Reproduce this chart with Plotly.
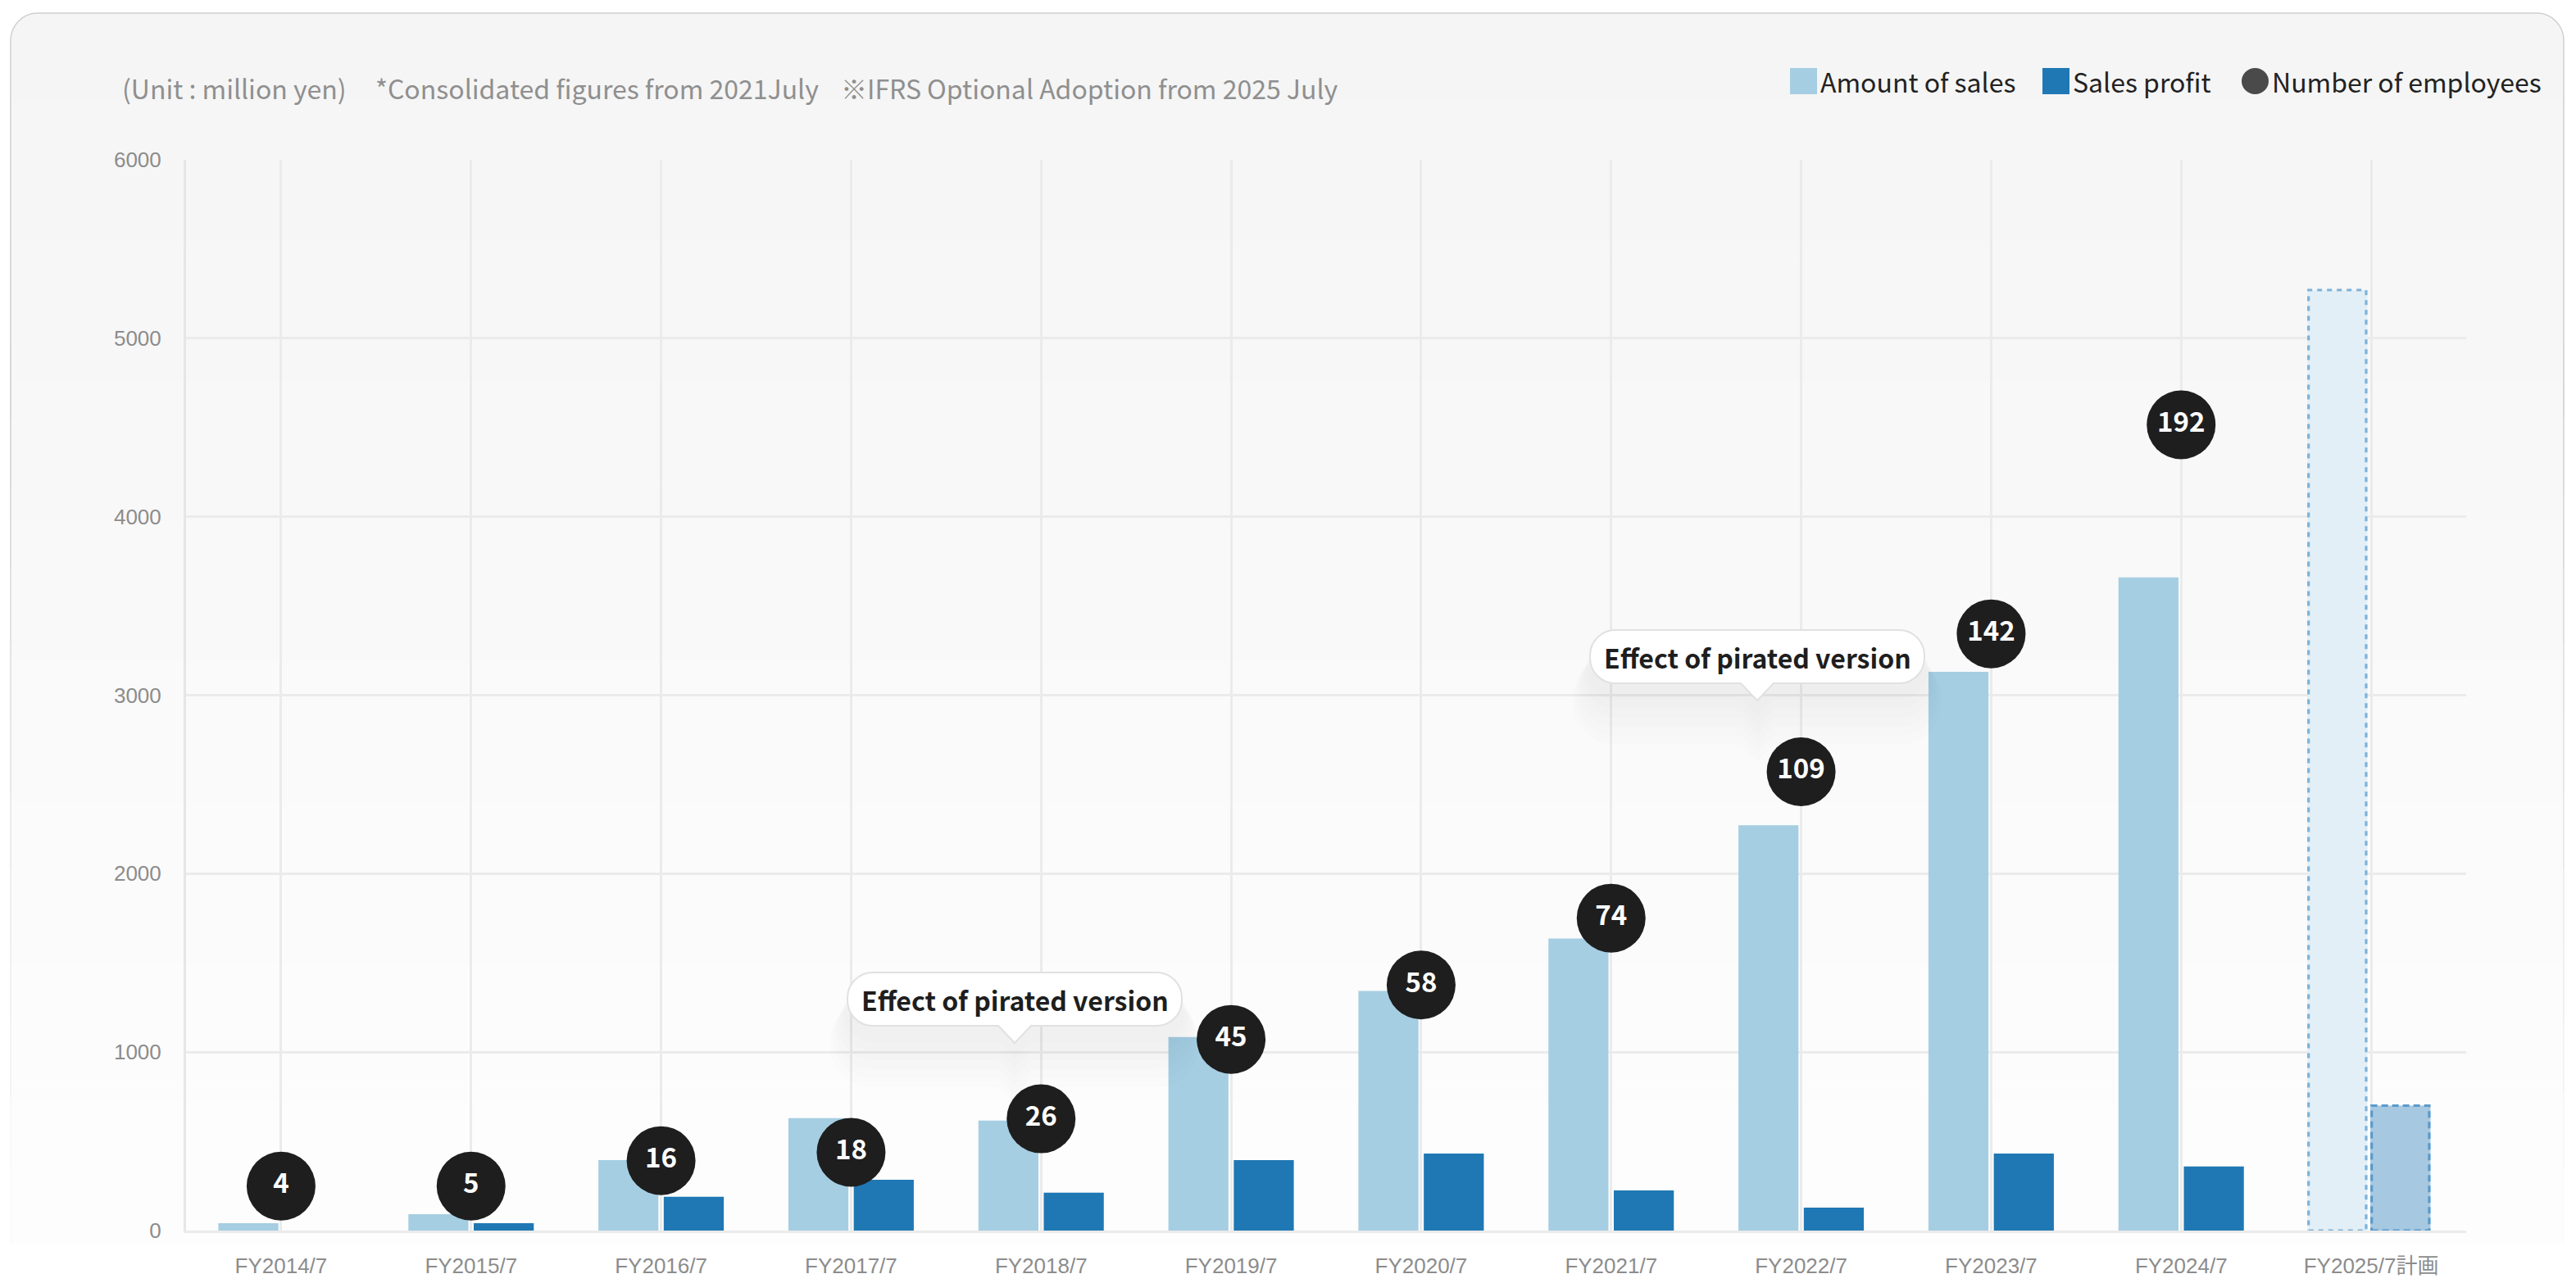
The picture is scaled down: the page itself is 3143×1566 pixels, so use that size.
import plotly.graph_objects as go

# ---------------- data ----------------
categories = ["FY2014/7", "FY2015/7", "FY2016/7", "FY2017/7", "FY2018/7", "FY2019/7",
              "FY2020/7", "FY2021/7", "FY2022/7", "FY2023/7", "FY2024/7", "FY2025/7計画"]
sales = [41, 92, 395, 630, 616, 1085, 1343, 1637, 2271, 3131, 3660, 5270]
profit = [0, 41, 189, 285, 212, 395, 432, 225, 129, 432, 359, 700]
employees = [4, 5, 16, 18, 26, 45, 58, 74, 109, 142, 192, None]
is_plan = [False] * 11 + [True]
y_ticks = [0, 1000, 2000, 3000, 4000, 5000, 6000]
header_notes = ["(Unit : million yen)", "*Consolidated figures from 2021July",
                "※IFRS Optional Adoption from 2025 July"]
legend_labels = ["Amount of sales", "Sales profit", "Number of employees"]
callout_text = "Effect of pirated version"

# ---------------- styling ----------------
C_SALES = "#a6cee3"
C_PROFIT = "#1f78b4"
C_SALES_PLAN = "#e3eff7"
C_PROFIT_PLAN = "#a6c8e1"
C_SALES_PLAN_LINE = "#7db2d8"
C_PROFIT_PLAN_LINE = "#5a9bcc"
C_BUBBLE = "#1e1e1e"
GRID = "#ebebeb"
LATIN = "Noto Sans CJK JP"
TICKFONT = "Liberation Sans, Arial, Noto Sans CJK JP"

W_PX, H_PX = 3143, 1566
L, R, T, B = 227, 3009, 195, 1502
PW, PH = R - L, B - T


def PX(x):
    return (x - L) / PW


def PY(y):
    return (B - y) / PH


BAR_W = 0.316
SALES_OFF = -0.330
PROFIT_OFF = 0.014
EMP_MIN_DISPLAY = 9.9           # keeps small bubbles clear of the x axis
EMP_RANGE = [-0.73, 255.4]       # secondary (employees) axis range

act = [i for i, p in enumerate(is_plan) if not p]
pln = [i for i, p in enumerate(is_plan) if p]

fig = go.Figure()
fig.add_bar(x=[categories[i] for i in act], y=[sales[i] for i in act],
            offset=SALES_OFF, width=BAR_W, marker=dict(color=C_SALES, line=dict(width=0)),
            name=legend_labels[0], showlegend=False)
fig.add_bar(x=[categories[i] for i in act], y=[profit[i] for i in act],
            offset=PROFIT_OFF, width=BAR_W, marker=dict(color=C_PROFIT, line=dict(width=0)),
            name=legend_labels[1], showlegend=False)
PLAN_SALES_OFF = -0.336
PLAN_PROFIT_OFF = -0.004
fig.add_bar(x=[categories[i] for i in pln], y=[sales[i] for i in pln],
            offset=PLAN_SALES_OFF, width=BAR_W, marker=dict(color=C_SALES_PLAN, line=dict(width=0)),
            showlegend=False)
fig.add_bar(x=[categories[i] for i in pln], y=[profit[i] for i in pln],
            offset=PLAN_PROFIT_OFF, width=BAR_W, marker=dict(color=C_PROFIT_PLAN, line=dict(width=0)),
            showlegend=False)

emp_idx = [i for i, e in enumerate(employees) if e is not None]
fig.add_scatter(x=[categories[i] for i in emp_idx],
                y=[max(employees[i], EMP_MIN_DISPLAY) for i in emp_idx],
                yaxis="y2", mode="markers+text",
                text=[str(employees[i]) for i in emp_idx],
                textposition="middle center",
                textfont=dict(family=LATIN, size=33, color="white", weight=700),
                marker=dict(size=84, color=C_BUBBLE, line=dict(width=0)),
                cliponaxis=False, showlegend=False, name=legend_labels[2])

shapes = []
annotations = []

# ---- card background (gradient) ----
CARD_L, CARD_R, CARD_T, CARD_B, RAD = 13, 3128, 16, 1517, 33
k = 0.5523


def path_from(cmds):
    out = []
    for c in cmds:
        if isinstance(c, str):
            out.append(c)
        else:
            out.append("%.6f,%.6f" % (PX(c[0]), PY(c[1])))
    return " ".join(out)


top_path = path_from([
    "M", (CARD_L, CARD_T + RAD + 2), "L", (CARD_L, CARD_T + RAD),
    "C", (CARD_L, CARD_T + RAD - k * RAD), (CARD_L + RAD - k * RAD, CARD_T), (CARD_L + RAD, CARD_T),
    "L", (CARD_R - RAD, CARD_T),
    "C", (CARD_R - RAD + k * RAD, CARD_T), (CARD_R, CARD_T + RAD - k * RAD), (CARD_R, CARD_T + RAD),
    "L", (CARD_R, CARD_T + RAD + 2), "Z"])
shapes.append(dict(type="path", xref="paper", yref="paper", path=top_path,
                   fillcolor="rgb(245,245,245)", line=dict(width=0), layer="below"))
NB = 60
y_start = CARD_T + RAD
step = (CARD_B - y_start) / NB
for j in range(NB):
    v = 245 + 8.5 * (j + 0.5) / NB
    shapes.append(dict(type="rect", xref="paper", yref="paper",
                       x0=PX(CARD_L), x1=PX(CARD_R),
                       y0=PY(y_start + j * step), y1=PY(y_start + (j + 1) * step + 0.6),
                       fillcolor="rgb(%.1f,%.1f,%.1f)" % (v, v, v), line=dict(width=0), layer="below"))
# card border
border = path_from([
    "M", (CARD_L, 420), "L", (CARD_L, CARD_T + RAD),
    "C", (CARD_L, CARD_T + RAD - k * RAD), (CARD_L + RAD - k * RAD, CARD_T), (CARD_L + RAD, CARD_T),
    "L", (CARD_R - RAD, CARD_T),
    "C", (CARD_R - RAD + k * RAD, CARD_T), (CARD_R, CARD_T + RAD - k * RAD), (CARD_R, CARD_T + RAD),
    "L", (CARD_R, 420)])
shapes.append(dict(type="path", xref="paper", yref="paper", path=border,
                   line=dict(color="#cfcfcf", width=1.5), layer="below"))
segs = 12
for j in range(segs):
    ya = 420 + j * (CARD_B - 420) / segs
    yb = 420 + (j + 1) * (CARD_B - 420) / segs
    a = 1 - (j + 1) / (segs + 1)
    for xx in (CARD_L, CARD_R):
        shapes.append(dict(type="line", xref="paper", yref="paper", x0=PX(xx), x1=PX(xx),
                           y0=PY(ya), y1=PY(yb),
                           line=dict(color="rgba(200,200,200,%.2f)" % a, width=1.5), layer="below"))

# ---- dashed outlines of the plan bars ----
inset = 1.5 / (PW / len(categories))
for i in pln:
    shapes.append(dict(type="rect", xref="x", yref="y",
                       x0=i + PLAN_SALES_OFF + inset, x1=i + PLAN_SALES_OFF + BAR_W - inset,
                       y0=0, y1=sales[i],
                       line=dict(color=C_SALES_PLAN_LINE, width=3.2, dash="6px,6px"), layer="above"))
    shapes.append(dict(type="rect", xref="x", yref="y",
                       x0=i + PLAN_PROFIT_OFF + inset, x1=i + PLAN_PROFIT_OFF + BAR_W - inset,
                       y0=0, y1=profit[i],
                       line=dict(color=C_PROFIT_PLAN_LINE, width=3.2, dash="8px,5px"), layer="above"))


# ---- callout balloons ----
def balloon(cx, y0, w, h, pw=20, ph=21, r=31):
    x0, x1 = cx - w / 2, cx + w / 2
    y1 = y0 + h
    return path_from([
        "M", (x0 + r, y0), "L", (x1 - r, y0),
        "C", (x1 - r + k * r, y0), (x1, y0 + r - k * r), (x1, y0 + r),
        "L", (x1, y1 - r),
        "C", (x1, y1 - r + k * r), (x1 - r + k * r, y1), (x1 - r, y1),
        "L", (cx + pw, y1), "L", (cx, y1 + ph), "L", (cx - pw, y1),
        "L", (x0 + r, y1),
        "C", (x0 + r - k * r, y1), (x0, y1 - r + k * r), (x0, y1 - r),
        "L", (x0, y0 + r),
        "C", (x0, y0 + r - k * r), (x0 + r - k * r, y0), (x0 + r, y0), "Z"])


callouts = [(1238, 1187), (2144, 769)]
for cx, ty in callouts:
    for s in range(6):
        grow = 6 + s * 7
        shapes.append(dict(type="path", xref="paper", yref="paper",
                           path=balloon(cx, ty + 14 + s * 4, 410 + grow, 65 + grow, r=31 + grow / 2),
                           fillcolor="rgba(0,0,0,0.009)", line=dict(width=0), layer="above"))
    shapes.append(dict(type="path", xref="paper", yref="paper", path=balloon(cx, ty, 408, 65),
                       fillcolor="white", line=dict(color="#e1e1e1", width=2), layer="above"))
    annotations.append(dict(xref="paper", yref="paper", x=PX(cx), y=PY(ty + 33),
                            text=callout_text, showarrow=False, xanchor="center", yanchor="middle",
                            font=dict(family=LATIN, size=32, color="#1e1e1e", weight=700)))

# ---- header notes ----
for txt, xx in zip(header_notes, [147, 456, 1024]):
    annotations.append(dict(xref="paper", yref="paper", x=PX(xx), y=PY(107), text=txt,
                            showarrow=False, xanchor="left", yanchor="middle",
                            font=dict(family=LATIN, size=32, color="#8f8f8f")))

# ---- custom legend ----
leg = [(2184, C_SALES, "rect"), (2492, C_PROFIT, "rect"), (2735, "#4a4a4a", "circle")]
for (lx, col, kind), lab in zip(leg, legend_labels):
    shapes.append(dict(type=kind, xref="paper", yref="paper", x0=PX(lx), x1=PX(lx + 33),
                       y0=PY(115), y1=PY(83), fillcolor=col, line=dict(width=0), layer="above"))
    annotations.append(dict(xref="paper", yref="paper", x=PX(lx + 35), y=PY(99), text=lab,
                            showarrow=False, xanchor="left", yanchor="middle",
                            font=dict(family=LATIN, size=32, color="#222222")))

fig.update_layout(
    template="none",
    width=W_PX, height=H_PX,
    margin=dict(l=L, r=W_PX - R, t=T, b=H_PX - B, pad=0),
    paper_bgcolor="white", plot_bgcolor="rgba(0,0,0,0)",
    barmode="overlay", showlegend=False,
    xaxis=dict(type="category", categoryorder="array", categoryarray=categories,
               range=[-0.5, len(categories) - 0.5], showgrid=True, gridcolor=GRID, gridwidth=2.5,
               showline=True, linecolor=GRID, linewidth=3, ticks="", zeroline=False,
               tickfont=dict(family=TICKFONT, size=26, color="#8c8c8c"),
               ticklabelstandoff=18, automargin=False, fixedrange=True),
    yaxis=dict(range=[0, 6000], tickvals=y_ticks, ticktext=[str(v) for v in y_ticks],
               showgrid=True, gridcolor=GRID, gridwidth=2.5, zeroline=False,
               showline=True, linecolor="#e6e6e6", linewidth=3, ticks="",
               tickfont=dict(family=TICKFONT, size=26, color="#8c8c8c"),
               ticklabelstandoff=22, automargin=False, fixedrange=True),
    yaxis2=dict(overlaying="y", range=EMP_RANGE, visible=False, showgrid=False,
                zeroline=False, fixedrange=True),
    shapes=shapes, annotations=annotations,
)

fig.write_html("out.html")
